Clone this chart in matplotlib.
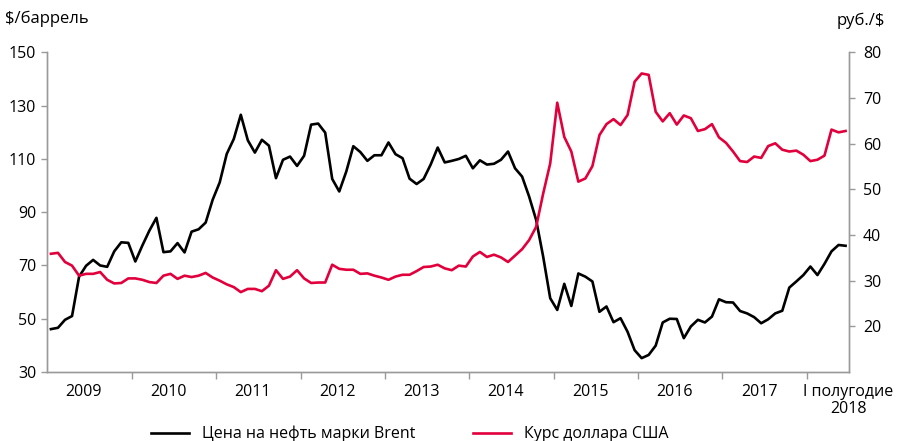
import matplotlib
matplotlib.use("Agg")
import matplotlib.pyplot as plt

plt.rcParams['font.family'] = ['Open Sans', 'DejaVu Sans']

# monthly values, Jan 2009 - Jun 2018
brent = [46.1, 46.6, 49.6, 51.0, 65.8, 69.9, 72.1, 70.0, 69.5, 75.3, 78.7, 78.5,
         71.5, 77.5, 83.1, 87.9, 75.0, 75.3, 78.4, 74.9, 82.7, 83.6, 86.1, 94.7,
         101.2, 111.9, 117.5, 126.6, 117.0, 112.4, 117.2, 115.0, 102.8, 109.7, 110.9, 107.4,
         111.2, 122.9, 123.3, 119.9, 102.5, 97.8, 105.3, 114.8, 112.6, 109.3, 111.4, 111.4,
         116.2, 111.8, 110.3, 102.6, 100.6, 102.5, 107.9, 114.3, 108.7, 109.3, 110.0, 111.2,
         106.5, 109.5, 107.9, 108.2, 109.7, 112.8, 106.5, 103.4, 95.9, 87.1, 73.3, 57.7,
         53.3, 63.1, 54.8, 67.0, 65.8, 64.0, 52.6, 54.6, 48.7, 50.2, 45.1, 38.2,
         35.2, 36.4, 39.9, 48.6, 50.0, 49.9, 42.7, 47.1, 49.6, 48.6, 50.8, 57.3,
         56.2, 56.1, 52.9, 52.0, 50.6, 48.3, 49.8, 52.0, 53.0, 61.7, 64.0, 66.4,
         69.6, 66.4, 70.6, 75.3, 77.7, 77.4]

usd_rub = [35.9, 36.1, 34.1, 33.3, 31.1, 31.5, 31.5, 31.9, 30.2, 29.4, 29.5, 30.5,
           30.5, 30.2, 29.7, 29.5, 31.1, 31.5, 30.4, 31.1, 30.8, 31.1, 31.7, 30.7,
           30.0, 29.2, 28.6, 27.5, 28.2, 28.2, 27.7, 28.9, 32.3, 30.4, 30.9, 32.3,
           30.5, 29.5, 29.6, 29.6, 33.5, 32.6, 32.4, 32.4, 31.5, 31.6, 31.1, 30.7,
           30.2, 30.9, 31.3, 31.3, 32.1, 33.0, 33.1, 33.5, 32.7, 32.3, 33.3, 33.1,
           35.3, 36.3, 35.2, 35.7, 35.1, 34.1, 35.5, 36.9, 38.9, 41.8, 49.1, 55.7,
           69.0, 61.5, 58.3, 51.7, 52.4, 55.1, 61.9, 64.3, 65.4, 64.1, 66.3, 73.6,
           75.4, 75.1, 67.0, 64.9, 66.7, 64.2, 66.2, 65.6, 62.8, 63.2, 64.3, 61.4,
           60.2, 58.3, 56.2, 56.0, 57.2, 56.9, 59.5, 60.1, 58.7, 58.3, 58.5, 57.6,
           56.2, 56.5, 57.4, 63.1, 62.5, 62.8]

year_labels = ['2009', '2010', '2011', '2012', '2013', '2014', '2015', '2016', '2017',
               'I полугодие\n2018']

left_ticks = [30, 50, 70, 90, 110, 130, 150]
right_ticks = [20, 30, 40, 50, 60, 70, 80]

months = list(range(len(brent)))
fs = 11.5
grey = '#9a9a9a'
red = '#e2003c'

fig = plt.figure(figsize=(9.12, 4.41), dpi=100)
ax = fig.add_axes([0.052, 0.1565, 0.879, 0.7245])
ax2 = ax.twinx()

l1, = ax.plot(months, brent, color='black', lw=1.9, label='Цена на нефть марки Brent')
l2, = ax2.plot(months, usd_rub, color=red, lw=1.9, label='Курс доллара США')

ax.set_xlim(-0.5, len(brent) - 0.5)
ax.set_ylim(30, 150)
ax2.set_ylim(10, 80)
ax.set_yticks(left_ticks)
ax2.set_yticks(right_ticks)

# year boundaries as ticks, labels on minor ticks in between
ax.set_xticks([12 * k - 0.5 for k in range(1, 10)])
ax.set_xticklabels([])
label_pos = [12 * k + 4.7 for k in range(9)] + [113.4]
ax.set_xticks(label_pos, minor=True)
ax.set_xticklabels(year_labels, minor=True, fontsize=fs, linespacing=1.05)
ax.tick_params(axis='x', which='minor', length=0, pad=9)
ax.tick_params(axis='x', which='major', length=5, width=1, color=grey, direction='out')
ax.tick_params(axis='y', length=4, width=1, color=grey, labelsize=fs, pad=4)
ax2.tick_params(axis='y', length=4, width=1, color=grey, labelsize=fs, pad=6)

for a in (ax, ax2):
    a.spines['top'].set_visible(False)
    for s in ('left', 'right', 'bottom'):
        a.spines[s].set_color(grey)
        a.spines[s].set_linewidth(1)

fig.text(0.006, 0.958, '$/баррель', fontsize=12, va='center', ha='left')
fig.text(0.970, 0.952, 'руб./$', fontsize=12, va='center', ha='right')

fig.legend(handles=[l1, l2], loc='center', bbox_to_anchor=(0.449, 0.016), ncol=2,
           frameon=False, fontsize=fs, handlelength=2.4, handletextpad=0.8,
           columnspacing=3.6, borderaxespad=0)

fig.savefig('out.png', dpi=100)
